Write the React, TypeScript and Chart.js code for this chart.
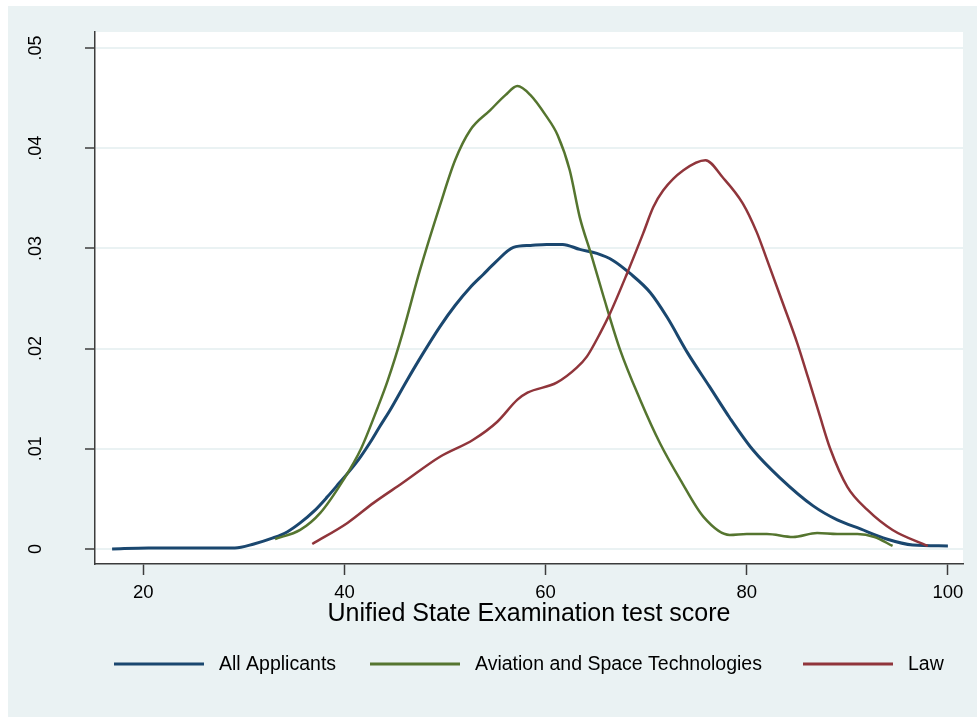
import React, { useEffect, useRef } from "react";
import { Chart, registerables } from "chart.js";

Chart.register(...registerables);

const allScores = [16.9, 20.5, 25, 29.1, 31, 32.9, 34.3, 35.6, 37, 38.3, 39.5, 40.6, 41.6, 42.6, 43.5, 44.5, 46.2, 47.8, 49.5, 51, 52.5, 53.8, 55, 56.8, 58.5, 60.1, 61.7, 63.4, 65.1, 66.7, 68.4, 70.4, 72.1, 74.1, 76.3, 78.3, 80.6, 83.3, 86.6, 89, 91.3, 93.9, 96.5, 100];
const allDensity = [0, 0.0001, 0.0001, 0.0001, 0.0005, 0.0011, 0.0017, 0.0026, 0.0038, 0.0052, 0.0066, 0.0079, 0.0092, 0.0107, 0.0122, 0.0138, 0.0168, 0.0195, 0.0222, 0.0243, 0.0261, 0.0274, 0.0286, 0.0301, 0.0303, 0.0304, 0.0304, 0.0299, 0.0295, 0.0288, 0.0275, 0.0256, 0.0231, 0.0196, 0.0162, 0.0131, 0.0099, 0.0071, 0.0043, 0.0029, 0.002, 0.001, 0.0004, 0.0003];

const aviationScores = [33.1, 35.6, 37.6, 39.9, 41.6, 43.3, 44.3, 45.8, 47.5, 49.5, 51, 52.5, 54.5, 56, 57.2, 58.5, 60, 61.2, 62.4, 63.4, 64.5, 65.7, 67.4, 69.4, 71.4, 73.4, 75.7, 78.3, 80, 82, 84.6, 87, 89, 91, 92.7, 94.5];
const aviationDensity = [0.001, 0.0019, 0.0036, 0.0069, 0.0099, 0.0141, 0.0168, 0.0216, 0.0278, 0.0343, 0.0388, 0.0418, 0.0438, 0.0453, 0.0462, 0.0453, 0.0433, 0.0413, 0.0378, 0.0331, 0.0295, 0.0254, 0.0199, 0.0149, 0.0105, 0.0069, 0.0032, 0.0014, 0.0015, 0.0015, 0.0012, 0.0016, 0.0015, 0.0015, 0.0012, 0.0003];

const lawScores = [36.8, 40.3, 42.9, 45.8, 49.5, 52.8, 55.2, 57.2, 58.2, 61.1, 63.1, 64.1, 65.4, 66.4, 68.1, 69.7, 70.7, 71.7, 73.7, 75.9, 77.6, 79.6, 81, 82, 83.6, 85, 86.1, 87.2, 88.3, 90, 92, 94.5, 98];
const lawDensity = [0.0005, 0.0026, 0.0046, 0.0066, 0.0092, 0.0109, 0.0127, 0.0149, 0.0156, 0.0166, 0.0181, 0.0192, 0.0215, 0.0235, 0.0275, 0.0315, 0.0341, 0.0358, 0.0378, 0.0388, 0.0371, 0.0345, 0.0316, 0.0289, 0.0245, 0.0206, 0.0171, 0.0135, 0.01, 0.0062, 0.0039, 0.0019, 0.0003];

const seriesNames = ["All Applicants", "Aviation and Space Technologies", "Law"];
const xTickValues = [20, 40, 60, 80, 100];
const xTickLabels = ["20", "40", "60", "80", "100"];
const yTickValues = [0, 0.01, 0.02, 0.03, 0.04, 0.05];
const yTickLabels = ["0", ".01", ".02", ".03", ".04", ".05"];
const xTitle = "Unified State Examination test score";

const COLORS = ["#1a476f", "#55752f", "#90353b"];
const FONT = "'Liberation Sans', Arial, Helvetica, sans-serif";
const BG = "#eaf2f3";

const toPoints = (xs: number[], ys: number[]) => xs.map((x, i) => ({ x, y: ys[i] }));

const backgroundPlugin = {
  id: "stataBackground",
  beforeDraw(chart: any) {
    const { ctx, chartArea } = chart;
    ctx.save();
    ctx.fillStyle = "#ffffff";
    ctx.fillRect(0, 0, chart.width, chart.height);
    ctx.fillStyle = BG;
    ctx.fillRect(8, 6, chart.width - 8, chart.height - 6);
    ctx.fillStyle = "#ffffff";
    ctx.fillRect(chartArea.left, chartArea.top, chartArea.right - chartArea.left, chartArea.bottom - chartArea.top);
    ctx.restore();
  },
};

const legendPlugin = {
  id: "stataLegend",
  afterDraw(chart: any) {
    const { ctx } = chart;
    const y = 664;
    const lineStarts = [114, 370, 803];
    ctx.save();
    ctx.font = `19.5px ${FONT}`;
    ctx.textBaseline = "middle";
    ctx.textAlign = "left";
    chart.data.datasets.forEach((ds: any, i: number) => {
      const x0 = lineStarts[i];
      ctx.strokeStyle = ds.borderColor;
      ctx.lineWidth = 3;
      ctx.beginPath();
      ctx.moveTo(x0, y);
      ctx.lineTo(x0 + 90, y);
      ctx.stroke();
      ctx.fillStyle = "#000000";
      ctx.fillText(ds.label, x0 + 105, y + 1);
    });
    ctx.restore();
  },
};

export default function App() {
  const canvasRef = useRef<HTMLCanvasElement | null>(null);

  useEffect(() => {
    document.body.style.margin = "0";
    const canvas = canvasRef.current;
    if (!canvas) return;
    const chart = new Chart(canvas, {
      type: "line",
      data: {
        datasets: [
          {
            label: seriesNames[0],
            data: toPoints(allScores, allDensity),
            borderColor: COLORS[0],
            borderWidth: 3,
            pointRadius: 0,
            cubicInterpolationMode: "monotone",
            fill: false,
            order: 2,
          },
          {
            label: seriesNames[1],
            data: toPoints(aviationScores, aviationDensity),
            borderColor: COLORS[1],
            borderWidth: 2.5,
            pointRadius: 0,
            cubicInterpolationMode: "monotone",
            fill: false,
            order: 1,
          },
          {
            label: seriesNames[2],
            data: toPoints(lawScores, lawDensity),
            borderColor: COLORS[2],
            borderWidth: 2.5,
            pointRadius: 0,
            cubicInterpolationMode: "monotone",
            fill: false,
            order: 0,
          },
        ],
      },
      options: {
        responsive: false,
        animation: false,
        events: [],
        layout: { padding: { left: 8, top: 32, right: 14, bottom: 0 } },
        plugins: {
          legend: { display: false },
          tooltip: { enabled: false },
        },
        scales: {
          x: {
            type: "linear",
            min: 15.2,
            max: 101.5,
            afterBuildTicks: (scale: any) => {
              scale.ticks = xTickValues.map((v) => ({ value: v }));
            },
            afterFit: (scale: any) => {
              scale.height = 153;
              scale.paddingLeft = 0;
              scale.paddingRight = 0;
            },
            ticks: {
              color: "#000000",
              font: { family: FONT, size: 18.5 },
              padding: 7,
              maxRotation: 0,
              autoSkip: false,
              callback: (v: any) => {
                const i = xTickValues.indexOf(Number(v));
                return i >= 0 ? xTickLabels[i] : "";
              },
            },
            grid: {
              drawOnChartArea: false,
              drawTicks: true,
              tickLength: 11,
              tickColor: "#3c3c3c",
              tickWidth: 1.5,
            },
            border: { display: true, color: "#3c3c3c", width: 1.5 },
            title: {
              display: true,
              text: xTitle,
              color: "#000000",
              font: { family: FONT, size: 25 },
              padding: { top: 0, bottom: 88 },
            },
          },
          y: {
            type: "linear",
            min: -0.0015,
            max: 0.0516,
            afterBuildTicks: (scale: any) => {
              scale.ticks = yTickValues.map((v) => ({ value: v }));
            },
            afterFit: (scale: any) => {
              scale.width = 87;
              scale.paddingTop = 0;
              scale.paddingBottom = 0;
            },
            ticks: {
              color: "#000000",
              font: { family: FONT, size: 18 },
              minRotation: 90,
              maxRotation: 90,
              crossAlign: "center",
              padding: 36,
              autoSkip: false,
              callback: (v: any) => {
                const i = yTickValues.findIndex((t) => Math.abs(t - Number(v)) < 1e-9);
                return i >= 0 ? yTickLabels[i] : "";
              },
            },
            grid: {
              color: BG,
              lineWidth: 2,
              drawTicks: true,
              tickLength: 10,
              tickColor: "#3c3c3c",
              tickWidth: 1.5,
            },
            border: { display: true, color: "#3c3c3c", width: 1.5 },
          },
        },
      },
      plugins: [backgroundPlugin, legendPlugin],
    } as any);
    return () => chart.destroy();
  }, []);

  return (
    <div style={{ width: 977, height: 717 }}>
      <canvas ref={canvasRef} width={977} height={717} style={{ display: "block" }} />
    </div>
  );
}
